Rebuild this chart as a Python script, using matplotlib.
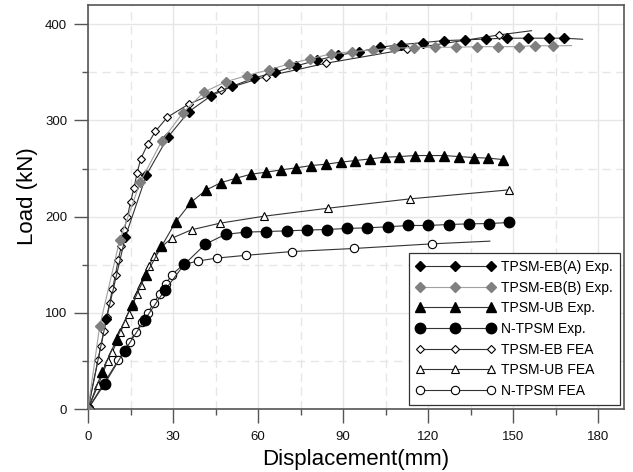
import matplotlib
matplotlib.use("Agg")
import matplotlib.pyplot as plt
from matplotlib.ticker import MultipleLocator

plt.rcParams['font.family'] = ['Liberation Sans', 'DejaVu Sans']

# ---- data ----
eba_x = [0, 6.5, 13.2, 20.6, 28.3, 35.6, 43.2, 50.9, 58.4, 65.8, 73.4, 80.8, 88.1, 95.7,
         103.0, 110.4, 118.0, 125.4, 132.9, 140.3, 147.7, 155.3, 162.6, 167.9, 174.4]
eba_y = [0, 93.8, 179.3, 243.4, 283.2, 309.2, 325.2, 335.6, 343.9, 350.1, 356.7, 362.6, 367.7, 371.5,
         376.1, 378.8, 380.9, 383.0, 383.7, 384.7, 385.5, 385.5, 385.5, 385.5, 384.4]

ebb_x = [0, 4.1, 11.2, 18.5, 26.0, 33.5, 40.9, 48.5, 56.1, 63.7, 71.0, 78.3, 85.7, 93.0,
         100.4, 107.8, 115.1, 122.5, 129.8, 137.2, 144.7, 152.1, 157.7, 164.0, 170.5]
ebb_y = [0, 85.8, 175.9, 236.5, 278.5, 308.2, 329.4, 340.1, 346.7, 352.6, 358.8, 364.0, 369.2, 371.5,
         373.3, 375.1, 375.7, 376.1, 376.1, 376.7, 376.7, 376.7, 377.8, 377.5, 377.8]

ub_x = [0, 4.9, 10.1, 15.5, 20.3, 25.9, 30.9, 36.4, 41.7, 47.0, 52.3, 57.5, 62.8, 68.1, 73.4,
        78.7, 84.0, 89.1, 94.3, 99.5, 104.6, 109.8, 115.2, 120.4, 125.6, 130.9, 136.1, 141.2, 146.4]
ub_y = [0, 38.0, 72.7, 108.4, 138.8, 169.0, 194.4, 215.1, 227.8, 235.4, 240.0, 244.1, 246.2, 248.6, 250.7,
        253.1, 254.5, 256.6, 258.3, 260.0, 261.8, 262.4, 263.5, 263.5, 263.5, 262.4, 261.4, 260.8, 259.3]

n_x = [0, 5.9, 12.9, 20.0, 27.2, 34.0, 41.4, 48.5, 55.7, 62.8, 70.1, 77.1, 84.1, 91.4, 98.5,
       105.7, 112.9, 120.0, 127.2, 134.4, 141.5, 148.4]
n_y = [0, 26.3, 60.6, 92.8, 124.0, 150.4, 171.4, 181.6, 183.9, 184.5, 185.2, 186.0, 186.6, 187.7, 188.4,
       189.4, 190.8, 190.8, 191.8, 192.5, 192.8, 193.9]

ebf_x = [0, 3.5, 4.5, 5.6, 6.6, 7.6, 8.6, 9.7, 10.6, 11.8, 12.7, 13.9, 15.0, 16.2, 17.3, 18.6,
         21.1, 23.8, 28.0, 35.5, 47.0, 62.6, 84.0, 112.4, 145.0, 156.4]
ebf_y = [0, 50.5, 65.0, 80.6, 95.5, 110.1, 124.7, 139.5, 154.4, 169.7, 185.6, 200.1, 215.1, 229.6, 245.2, 260.2,
         275.5, 288.8, 303.4, 316.9, 331.4, 345.6, 359.5, 374.0, 388.9, 393.3]

ubf_x = [0, 3.6, 7.0, 8.6, 10.2, 11.4, 12.9, 14.3, 15.8, 17.3, 18.6, 20.0, 21.5, 23.2, 26.2,
         29.6, 36.5, 46.6, 62.0, 84.8, 113.7, 148.4]
ubf_y = [0, 25.0, 50.2, 59.2, 70.3, 79.6, 89.4, 99.0, 109.0, 119.1, 128.8, 138.8, 148.9, 158.9, 169.5,
         177.6, 186.3, 193.2, 200.4, 208.8, 218.5, 227.8]

nf_x = [0, 10.6, 14.7, 16.8, 19.0, 21.1, 23.1, 25.3, 27.4, 29.6, 33.7, 38.7, 45.4, 55.8,
        72.0, 93.9, 121.3, 141.7]
nf_y = [0, 50.5, 69.9, 80.0, 90.0, 99.7, 110.1, 119.8, 129.9, 139.8, 150.2, 153.8, 156.9, 159.8,
        163.7, 166.9, 171.7, 174.5]

labels = ['TPSM-EB(A) Exp.', 'TPSM-EB(B) Exp.', 'TPSM-UB Exp.', 'N-TPSM Exp.',
          'TPSM-EB FEA', 'TPSM-UB FEA', 'N-TPSM FEA']

fig = plt.figure(figsize=(6.33, 4.72), dpi=100)
ax = fig.add_axes([88/633, 1-409/472, (624-88)/633, (409-5)/472])

dark = '#333333'
lw = 0.8
h = []
h.append(ax.plot(eba_x, eba_y, color=dark, lw=lw, marker='D', ms=5.5, mfc='black', mec='black',
                 markevery=list(range(len(eba_x)-1)), label=labels[0], zorder=5)[0])
h.append(ax.plot(ebb_x, ebb_y, color='#a0a0a0', lw=lw, marker='D', ms=5.5, mfc='#808080', mec='#808080',
                 markevery=list(range(len(ebb_x)-1)), label=labels[1], zorder=6)[0])
h.append(ax.plot(ub_x, ub_y, color=dark, lw=lw, marker='^', ms=6.5, mfc='black', mec='black',
                 label=labels[2], zorder=5)[0])
h.append(ax.plot(n_x, n_y, color=dark, lw=lw, marker='o', ms=7.5, mfc='black', mec='black',
                 label=labels[3], zorder=5)[0])
h.append(ax.plot(ebf_x, ebf_y, color=dark, lw=lw, marker='D', ms=4.5, mfc='white', mec='black', mew=0.8,
                 markevery=list(range(1, len(ebf_x)-1)), label=labels[4], zorder=4)[0])
h.append(ax.plot(ubf_x, ubf_y, color=dark, lw=lw, marker='^', ms=5.5, mfc='white', mec='black', mew=0.8,
                 markevery=list(range(1, len(ubf_x))), label=labels[5], zorder=4)[0])
h.append(ax.plot(nf_x, nf_y, color=dark, lw=lw, marker='o', ms=6, mfc='white', mec='black', mew=0.8,
                 markevery=list(range(1, len(nf_x)-1)), label=labels[6], zorder=4)[0])

ax.set_xlim(0, 189)
ax.set_ylim(0, 420)
ax.xaxis.set_major_locator(MultipleLocator(30))
ax.xaxis.set_minor_locator(MultipleLocator(15))
ax.yaxis.set_major_locator(MultipleLocator(100))
ax.yaxis.set_minor_locator(MultipleLocator(50))

ax.grid(True, which='major', color='#e6e6e6', lw=1.0, ls='-', zorder=0)
ax.grid(True, which='minor', color='#e6e6e6', lw=1.0, ls=(0, (6, 4)), zorder=0)
ax.set_axisbelow(True)

for s in ax.spines.values():
    s.set_color('#555555')
    s.set_linewidth(1.2)

ax.tick_params(which='major', direction='out', length=10, width=1, color='#555555',
               labelsize=9.5, labelcolor='#111111')
ax.tick_params(which='minor', direction='out', length=4.5, width=1, color='#555555')
ax.tick_params(axis='x', which='major', pad=6)
ax.tick_params(axis='y', which='major', pad=5)

ax.set_xlabel('Displacement(mm)', fontsize=16, labelpad=4)
ax.set_ylabel('Load (kN)', fontsize=16)
ax.yaxis.set_label_coords(-0.093, 0.527)

leg = ax.legend(handles=h, loc='lower right', numpoints=3, handlelength=5.7, fontsize=10,
                frameon=True, fancybox=False, framealpha=1, edgecolor='#333333',
                borderaxespad=0.3, labelspacing=0.48, handletextpad=0.45, borderpad=0.5)
leg.get_frame().set_linewidth(0.9)

fig.savefig('out.png', dpi=100)
